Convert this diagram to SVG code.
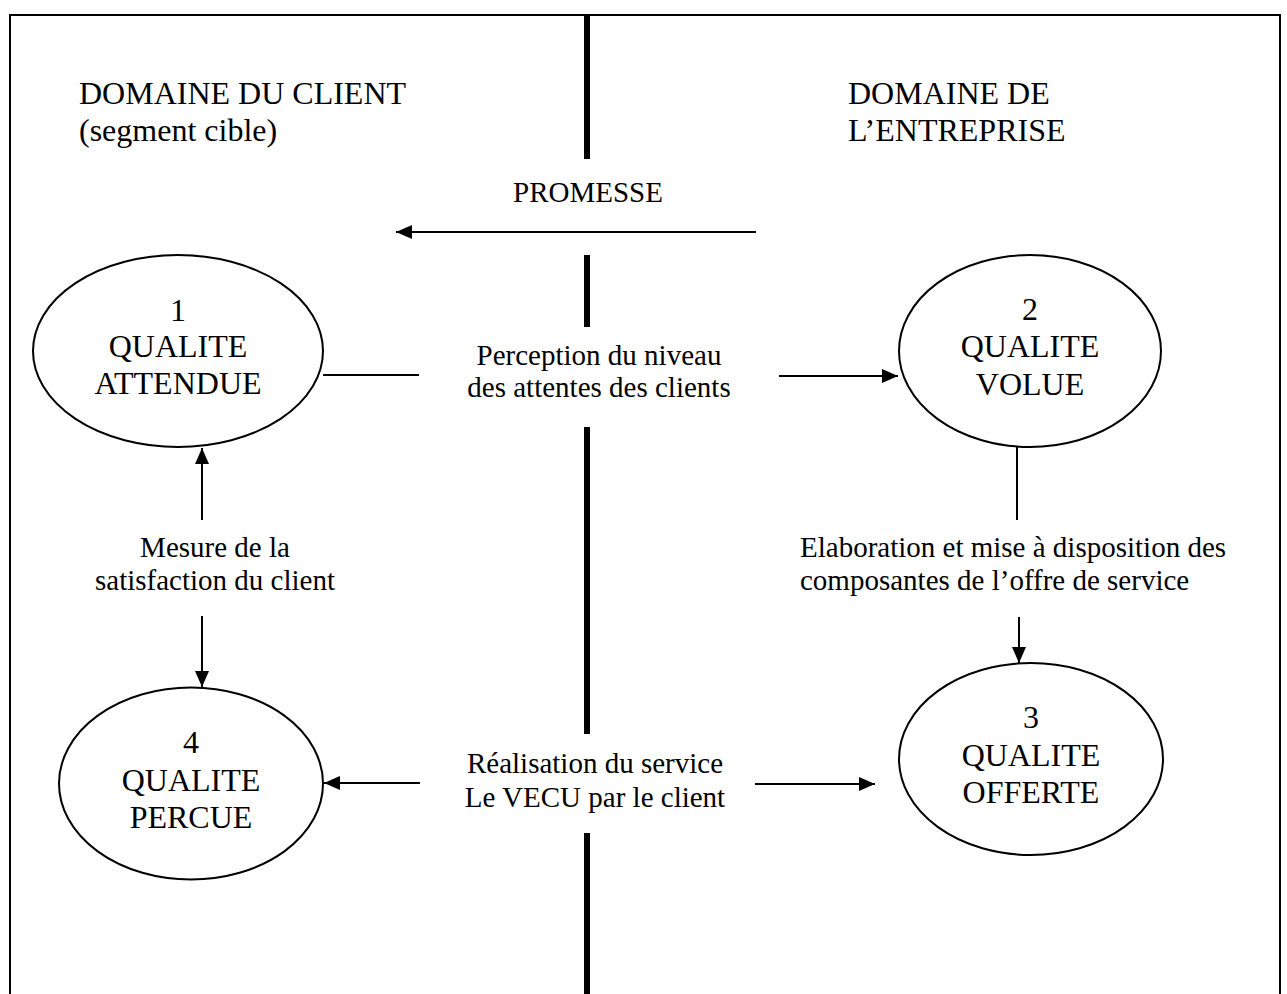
<svg xmlns="http://www.w3.org/2000/svg" width="1287" height="994" viewBox="0 0 1287 994">
<style>
text{font-family:"Liberation Serif","Times New Roman",serif;fill:#000}
.h{font-size:32px}
.n{font-size:32px;text-anchor:middle}
.l{font-size:29px}
.c{font-size:29px;text-anchor:middle}
.e{fill:#fff;stroke:#000;stroke-width:2}
.ln{stroke:#000;stroke-width:2;fill:none}
.bar{stroke:#000;stroke-width:6;fill:none}
</style>
<defs>
<marker id="ah" markerUnits="userSpaceOnUse" markerWidth="17" markerHeight="15" refX="16" refY="7" orient="auto">
<path d="M0,0 L16,7 L0,14 z" fill="#000"/>
</marker>
</defs>
<rect width="1287" height="994" fill="#fff"/>
<path class="ln" d="M10,994 V15 H1280 V994"/>
<g id="divider">
<line class="bar" x1="587" y1="15" x2="587" y2="159"/>
<line class="bar" x1="587" y1="255" x2="587" y2="327"/>
<line class="bar" x1="587" y1="427" x2="587" y2="734"/>
<line class="bar" x1="587" y1="833" x2="587" y2="994"/>
</g>
<g id="domain-client">
<text class="h" x="79" y="104">DOMAINE DU CLIENT</text>
<text class="h" x="79" y="141">(segment cible)</text>
</g>
<g id="domain-entreprise">
<text class="h" x="848" y="104">DOMAINE DE</text>
<text class="h" x="848" y="141">L’ENTREPRISE</text>
</g>
<g id="node1">
<ellipse class="e" cx="178" cy="351" rx="145" ry="96"/>
<text class="n" x="178" y="321">1</text>
<text class="n" x="178" y="357">QUALITE</text>
<text class="n" x="178" y="394">ATTENDUE</text>
</g>
<g id="node2">
<ellipse class="e" cx="1030" cy="351" rx="131" ry="96"/>
<text class="n" x="1030" y="320">2</text>
<text class="n" x="1030" y="357">QUALITE</text>
<text class="n" x="1030" y="395">VOLUE</text>
</g>
<g id="node3">
<ellipse class="e" cx="1031" cy="759" rx="132" ry="96"/>
<text class="n" x="1031" y="728">3</text>
<text class="n" x="1031" y="766">QUALITE</text>
<text class="n" x="1031" y="803">OFFERTE</text>
</g>
<g id="node4">
<ellipse class="e" cx="191" cy="783.5" rx="132" ry="96"/>
<text class="n" x="191" y="753">4</text>
<text class="n" x="191" y="791">QUALITE</text>
<text class="n" x="191" y="828">PERCUE</text>
</g>
<g id="connectors">
<line class="ln" x1="756" y1="232" x2="396" y2="232" marker-end="url(#ah)"/>
<line class="ln" x1="323" y1="375" x2="419" y2="375"/>
<line class="ln" x1="779" y1="376" x2="898" y2="376" marker-end="url(#ah)"/>
<line class="ln" x1="202" y1="520" x2="202" y2="448" marker-end="url(#ah)"/>
<line class="ln" x1="202" y1="616" x2="202" y2="687" marker-end="url(#ah)"/>
<line class="ln" x1="1017" y1="447" x2="1017" y2="520"/>
<line class="ln" x1="1019" y1="617" x2="1019" y2="663" marker-end="url(#ah)"/>
<line class="ln" x1="420" y1="783" x2="324" y2="783" marker-end="url(#ah)"/>
<line class="ln" x1="755" y1="784" x2="875" y2="784" marker-end="url(#ah)"/>
</g>
<g id="labels">
<text class="c" x="588" y="202">PROMESSE</text>
<text class="c" x="599" y="365">Perception du niveau</text>
<text class="c" x="599" y="397">des attentes des clients</text>
<text class="c" x="215" y="557">Mesure de la</text>
<text class="c" x="215" y="590">satisfaction du client</text>
<text class="l" x="800" y="557">Elaboration et mise à disposition des</text>
<text class="l" x="800" y="590">composantes de l’offre de service</text>
<text class="c" x="595" y="773">Réalisation du service</text>
<text class="c" x="595" y="807">Le VECU par le client</text>
</g>
</svg>
